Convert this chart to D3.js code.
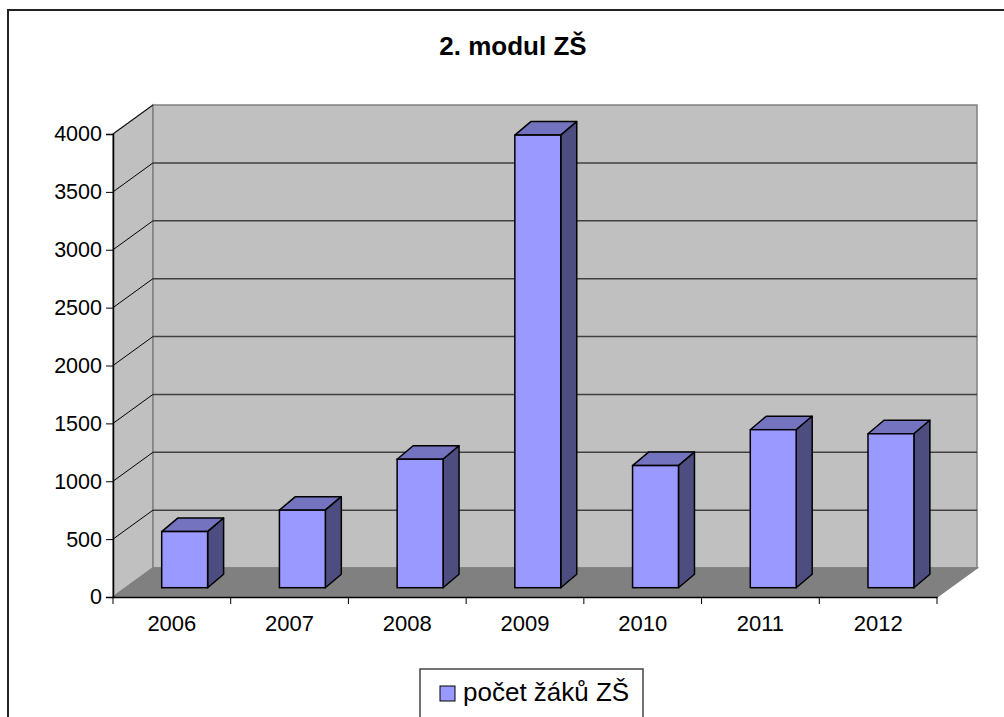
<!DOCTYPE html>
<html lang="cs">
<head>
<meta charset="UTF-8">
<title>2. modul ZŠ</title>
<style>
  body { margin: 0; background: #fff; }
  text { font-family: "Liberation Sans", Arial, sans-serif; }
</style>
</head>
<body>
<script src="https://cdn.jsdelivr.net/npm/d3@7"></script>
<script>
  // data
  const years = ["2006", "2007", "2008", "2009", "2010", "2011", "2012"];
  const pupils = [485, 670, 1110, 3910, 1055, 1365, 1330];
  const yTicks = [0, 500, 1000, 1500, 2000, 2500, 3000, 3500, 4000];
  const seriesName = "počet žáků ZŠ";
  const title = "2. modul ZŠ";

  const width = 1004, height = 717;
  const depthX = 40, depthY = 29;   // wall depth
  const barDX = 16, barDY = 13.5;   // bar depth
  const offX = 12.8, offY = 9.3;    // bar front face offset from floor front

  const svg = d3.select("body").append("svg")
      .attr("width", width)
      .attr("height", height);

  // outer frame
  svg.append("rect")
      .attr("x", 8).attr("y", 10)
      .attr("width", 1010).attr("height", 720)
      .attr("fill", "#fff")
      .attr("stroke", "#222")
      .attr("stroke-width", 2);

  svg.append("text")
      .attr("x", 513).attr("y", 55)
      .attr("text-anchor", "middle")
      .attr("font-size", 26)
      .attr("font-weight", "bold")
      .text(title);

  const x = d3.scaleBand().domain(years).range([113, 937]);
  const y = d3.scaleLinear().domain([0, 4000]).range([597, 134]);

  const x0 = x.range()[0], x1 = x.range()[1];
  const yb = y(0), yt = y(4000);

  // left side wall
  svg.append("path")
      .attr("d", `M${x0},${yb}L${x0},${yt}L${x0 + depthX},${yt - depthY}L${x0 + depthX},${yb - depthY}Z`)
      .attr("fill", "#c0c0c0").attr("stroke", "#808080").attr("stroke-width", 1.5);
  // back wall
  svg.append("rect")
      .attr("x", x0 + depthX).attr("y", yt - depthY)
      .attr("width", x1 - x0).attr("height", yb - yt)
      .attr("fill", "#c0c0c0").attr("stroke", "#808080").attr("stroke-width", 1.5);
  // floor
  svg.append("path")
      .attr("d", `M${x0},${yb}L${x1},${yb}L${x1 + depthX},${yb - depthY}L${x0 + depthX},${yb - depthY}Z`)
      .attr("fill", "#808080").attr("stroke", "#808080").attr("stroke-width", 1.5);

  // gridlines
  const grid = yTicks.filter(t => t > 0 && t < 4000);
  svg.selectAll(".gback").data(grid).enter().append("line")
      .attr("x1", x0 + depthX).attr("x2", x1 + depthX)
      .attr("y1", d => y(d) - depthY).attr("y2", d => y(d) - depthY)
      .attr("stroke", "#404040").attr("stroke-width", 1.5);
  svg.selectAll(".gside").data(yTicks.filter(t => t > 0)).enter().append("line")
      .attr("x1", x0).attr("x2", x0 + depthX)
      .attr("y1", d => y(d)).attr("y2", d => y(d) - depthY)
      .attr("stroke", "#000").attr("stroke-width", 1);

  // axes
  const yAxis = d3.axisLeft(y).tickValues(yTicks).tickSize(7).tickPadding(4).tickFormat(d3.format("d"));
  const gy = svg.append("g").attr("transform", `translate(${x0},0)`).call(yAxis);
  gy.select(".domain").attr("stroke", "#000").attr("stroke-width", 1.5);
  gy.selectAll(".tick line").attr("stroke", "#000");
  gy.selectAll("text").attr("font-size", 21.5).attr("fill", "#000")
      .style("font-family", "'Liberation Sans', Arial, sans-serif");

  const xAxis = d3.axisBottom(x).tickSize(0).tickPadding(18);
  const gx = svg.append("g").attr("transform", `translate(0,${yb})`).call(xAxis);
  gx.select(".domain").attr("stroke", "#000").attr("stroke-width", 1.5);
  gx.selectAll("text").attr("font-size", 22).attr("fill", "#000")
      .style("font-family", "'Liberation Sans', Arial, sans-serif");
  // category separators
  const seps = years.map(d => x(d)).concat([x1]);
  gx.selectAll(".sep").data(seps).enter().append("line")
      .attr("x1", d => d).attr("x2", d => d)
      .attr("y1", 0).attr("y2", 7)
      .attr("stroke", "#000");

  // bars
  const bw = x.bandwidth() * 0.39;
  const bars = svg.append("g").selectAll("g").data(years).enter().append("g");
  const fx = (d) => x(d) + (x.bandwidth() - bw) / 2 + offX;
  const fy = (i) => y(pupils[i]) - offY;
  const by = yb - offY;

  bars.append("path") // top
      .attr("d", (d, i) => `M${fx(d)},${fy(i)}L${fx(d) + barDX},${fy(i) - barDY}L${fx(d) + bw + barDX},${fy(i) - barDY}L${fx(d) + bw},${fy(i)}Z`)
      .attr("fill", "#7373bf").attr("stroke", "#000").attr("stroke-width", 1.5).attr("stroke-linejoin", "round");
  bars.append("path") // side
      .attr("d", (d, i) => `M${fx(d) + bw},${fy(i)}L${fx(d) + bw + barDX},${fy(i) - barDY}L${fx(d) + bw + barDX},${by - barDY}L${fx(d) + bw},${by}Z`)
      .attr("fill", "#4d4d80").attr("stroke", "#000").attr("stroke-width", 1.5).attr("stroke-linejoin", "round");
  bars.append("rect") // front
      .attr("x", d => fx(d)).attr("y", (d, i) => fy(i))
      .attr("width", bw).attr("height", (d, i) => by - fy(i))
      .attr("fill", "#9999ff").attr("stroke", "#000").attr("stroke-width", 1.5);

  // legend
  const lg = svg.append("g");
  lg.append("rect")
      .attr("x", 420).attr("y", 669).attr("width", 223).attr("height", 60)
      .attr("fill", "#fff").attr("stroke", "#444").attr("stroke-width", 1.5);
  lg.append("rect")
      .attr("x", 440).attr("y", 686).attr("width", 15).attr("height", 15)
      .attr("fill", "#9999ff").attr("stroke", "#000").attr("stroke-width", 1);
  lg.append("text")
      .attr("x", 463).attr("y", 701)
      .attr("font-size", 26)
      .text(seriesName);
</script>
</body>
</html>
